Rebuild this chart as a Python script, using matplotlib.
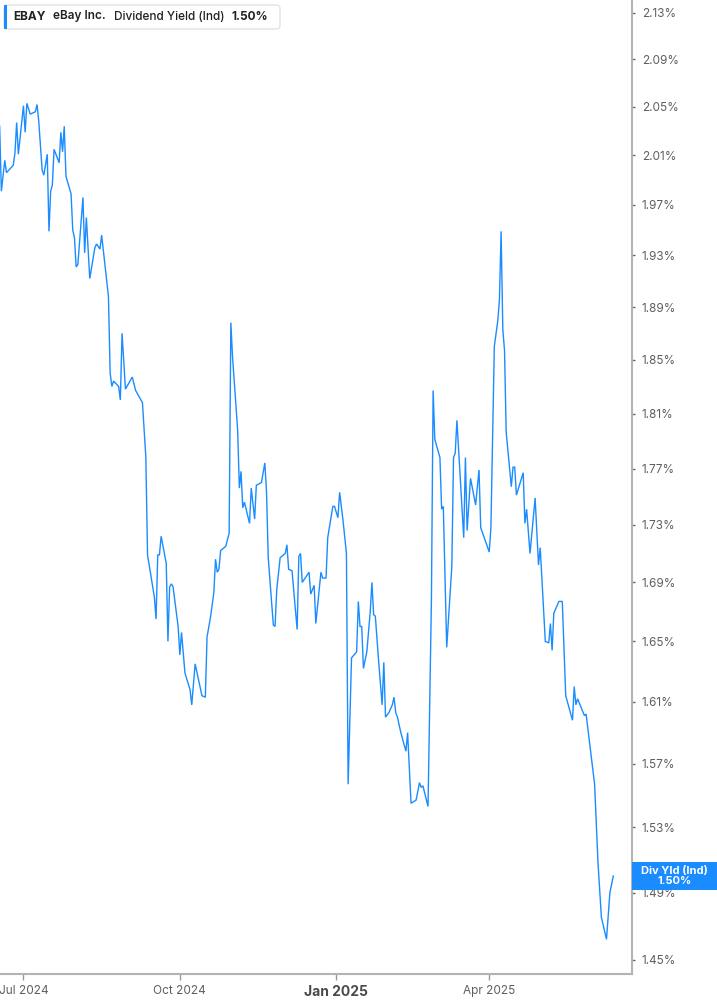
import numpy as np
import pandas as pd
import matplotlib
matplotlib.use("Agg")
import matplotlib.pyplot as plt
import matplotlib.dates as mdates
from matplotlib.patches import FancyBboxPatch, Rectangle
from matplotlib.ticker import FixedLocator, FixedFormatter, NullLocator

plt.rcParams['font.family'] = ['Inter', 'DejaVu Sans']

# EBAY dividend yield (indicated), %
dates = [
    "2024-06-17", "2024-06-18", "2024-06-20", "2024-06-21", "2024-06-25", "2024-06-26", "2024-06-27", "2024-06-28",
    "2024-07-01", "2024-07-02", "2024-07-03", "2024-07-05", "2024-07-08", "2024-07-09", "2024-07-10", "2024-07-12",
    "2024-07-13", "2024-07-15", "2024-07-16", "2024-07-17", "2024-07-18", "2024-07-19", "2024-07-22", "2024-07-23",
    "2024-07-24", "2024-07-25", "2024-07-26", "2024-07-29", "2024-07-30", "2024-07-31",
    "2024-08-01", "2024-08-02", "2024-08-05", "2024-08-06", "2024-08-07", "2024-08-09", "2024-08-12", "2024-08-13",
    "2024-08-15", "2024-08-16", "2024-08-20", "2024-08-21", "2024-08-22", "2024-08-23", "2024-08-26", "2024-08-27",
    "2024-08-28", "2024-08-30",
    "2024-09-03", "2024-09-05", "2024-09-09", "2024-09-11", "2024-09-12", "2024-09-16", "2024-09-17", "2024-09-18",
    "2024-09-19", "2024-09-20", "2024-09-23", "2024-09-24", "2024-09-25", "2024-09-26", "2024-09-27", "2024-09-30",
    "2024-10-01", "2024-10-02", "2024-10-04", "2024-10-07", "2024-10-08", "2024-10-10", "2024-10-14", "2024-10-16",
    "2024-10-17", "2024-10-19", "2024-10-21", "2024-10-22", "2024-10-23", "2024-10-24", "2024-10-25", "2024-10-28",
    "2024-10-30", "2024-10-31",
    "2024-11-01", "2024-11-04", "2024-11-05", "2024-11-06", "2024-11-07", "2024-11-08", "2024-11-11", "2024-11-12",
    "2024-11-14", "2024-11-15", "2024-11-18", "2024-11-20", "2024-11-21", "2024-11-22", "2024-11-25", "2024-11-26",
    "2024-11-27", "2024-11-29",
    "2024-12-02", "2024-12-03", "2024-12-04", "2024-12-06", "2024-12-09", "2024-12-10", "2024-12-11", "2024-12-12",
    "2024-12-16", "2024-12-17", "2024-12-19", "2024-12-20", "2024-12-23", "2024-12-24", "2024-12-26", "2024-12-27",
    "2024-12-30", "2024-12-31",
    "2025-01-02", "2025-01-03", "2025-01-05", "2025-01-07", "2025-01-08", "2025-01-10", "2025-01-13", "2025-01-14",
    "2025-01-15", "2025-01-16", "2025-01-17", "2025-01-19", "2025-01-21", "2025-01-22", "2025-01-23", "2025-01-24",
    "2025-01-26", "2025-01-28", "2025-01-29", "2025-01-30",
    "2025-02-01", "2025-02-03", "2025-02-04", "2025-02-05", "2025-02-06", "2025-02-08", "2025-02-11", "2025-02-12",
    "2025-02-14", "2025-02-17", "2025-02-19", "2025-02-20", "2025-02-21", "2025-02-24", "2025-02-26", "2025-02-27",
    "2025-02-28",
    "2025-03-03", "2025-03-04", "2025-03-05", "2025-03-07", "2025-03-10", "2025-03-11", "2025-03-12", "2025-03-13",
    "2025-03-17", "2025-03-18", "2025-03-19", "2025-03-21", "2025-03-24", "2025-03-26", "2025-03-27",
    "2025-04-01", "2025-04-02", "2025-04-04", "2025-04-06", "2025-04-07", "2025-04-08", "2025-04-09", "2025-04-10",
    "2025-04-11", "2025-04-14", "2025-04-15", "2025-04-16", "2025-04-17", "2025-04-21", "2025-04-22", "2025-04-23",
    "2025-04-25", "2025-04-28", "2025-04-30",
    "2025-05-01", "2025-05-04", "2025-05-06", "2025-05-07", "2025-05-08", "2025-05-09", "2025-05-12", "2025-05-14",
    "2025-05-16", "2025-05-20", "2025-05-21", "2025-05-22", "2025-05-23", "2025-05-27", "2025-05-28", "2025-05-29",
    "2025-06-02", "2025-06-04", "2025-06-06", "2025-06-09", "2025-06-11", "2025-06-13",
]
div_yield = [
    2.034, 1.981, 2.006, 1.996, 2.002, 2.012, 2.037, 2.011,
    2.051, 2.029, 2.053, 2.044, 2.046, 2.052, 2.038, 1.998, 1.994, 2.011, 1.949, 1.981, 1.986, 2.015,
    2.004, 2.029, 2.013, 2.034, 1.993, 1.979, 1.950, 1.944,
    1.921, 1.923, 1.976, 1.932, 1.960, 1.912, 1.936, 1.939, 1.935, 1.946, 1.898, 1.840, 1.830, 1.834,
    1.830, 1.820, 1.870, 1.828,
    1.837, 1.827, 1.818, 1.778, 1.709, 1.680, 1.665, 1.709, 1.709, 1.722, 1.703, 1.650, 1.687, 1.689,
    1.687, 1.660,
    1.641, 1.656, 1.629, 1.618, 1.608, 1.635, 1.614, 1.613, 1.653, 1.666, 1.683, 1.706, 1.697, 1.699,
    1.712, 1.715, 1.724, 1.878,
    1.852, 1.798, 1.756, 1.768, 1.742, 1.746, 1.731, 1.756, 1.734, 1.758, 1.760, 1.774, 1.753, 1.707,
    1.661, 1.660, 1.685, 1.707,
    1.710, 1.716, 1.699, 1.698, 1.658, 1.708, 1.710, 1.690, 1.697, 1.682, 1.688, 1.662, 1.697, 1.693,
    1.693, 1.721, 1.743, 1.743,
    1.735, 1.753, 1.733, 1.710, 1.557, 1.639, 1.643, 1.677, 1.660, 1.660, 1.632, 1.643, 1.670, 1.690,
    1.668, 1.667, 1.636, 1.608, 1.636, 1.600,
    1.603, 1.608, 1.613, 1.603, 1.600, 1.590, 1.578, 1.590, 1.545, 1.547, 1.558, 1.555, 1.556, 1.543,
    1.678, 1.827, 1.791,
    1.778, 1.741, 1.743, 1.646, 1.701, 1.778, 1.781, 1.805, 1.721, 1.778, 1.726, 1.763, 1.744, 1.769,
    1.728,
    1.711, 1.728, 1.860, 1.879, 1.895, 1.949, 1.873, 1.857, 1.796, 1.757, 1.771, 1.771, 1.751, 1.767,
    1.731, 1.741, 1.710, 1.749, 1.702,
    1.714, 1.650, 1.649, 1.662, 1.644, 1.669, 1.677, 1.677, 1.614, 1.598, 1.620, 1.608, 1.612, 1.601,
    1.602, 1.593,
    1.557, 1.508, 1.475, 1.462, 1.490, 1.500,
]

ytick_vals = [1.45, 1.49, 1.53, 1.57, 1.61, 1.65, 1.69, 1.73, 1.77, 1.81, 1.85, 1.89, 1.93, 1.97,
              2.01, 2.05, 2.09, 2.13]
xtick_dates = ["2024-07-01", "2024-10-01", "2025-01-01", "2025-04-01"]
xtick_labels = ["Jul 2024", "Oct 2024", "Jan 2025", "Apr 2025"]

ticker = "EBAY"
company = "eBay Inc."
metric = "Dividend Yield (Ind)"
last_label = "Div Yld (Ind)"

BLUE = "#1a8cff"
GRID_GRAY = "#b3b3b3"
TEXT_GRAY = "#5f5f5f"

W, H = 717, 1005
fig = plt.figure(figsize=(W / 100, H / 100), dpi=100)
ax = fig.add_axes([0, 31 / H, 632 / W, 974 / H])

x = pd.to_datetime(dates)
ax.plot(x, div_yield, color=BLUE, lw=1.0, solid_joinstyle="miter")

ax.set_yscale("log")
ax.set_ylim(1.4415, 2.141)
ax.set_xlim(pd.Timestamp("2024-06-17 04:48"), pd.Timestamp("2025-06-24"))

ax.yaxis.set_major_locator(FixedLocator(ytick_vals))
ax.yaxis.set_major_formatter(FixedFormatter([f"{v:.2f}%" for v in ytick_vals]))
ax.yaxis.set_minor_locator(NullLocator())
ax.yaxis.tick_right()
ax.tick_params(axis="y", length=2, width=1, color="#666666", pad=5,
               labelsize=8.5, labelcolor=TEXT_GRAY)

xt = mdates.date2num(pd.to_datetime(xtick_dates))
ax.xaxis.set_major_locator(FixedLocator(xt))
ax.xaxis.set_major_formatter(FixedFormatter(xtick_labels))
ax.xaxis.set_minor_locator(NullLocator())
ax.tick_params(axis="x", length=4, width=1, color="#999999", pad=4,
               labelsize=8.5, labelcolor=TEXT_GRAY)
for lab in ax.get_xticklabels():
    if lab.get_text().startswith("Jan"):
        lab.set_fontweight("bold")
        lab.set_fontsize(10)
        lab.set_color("#4a4a4a")

for side in ("left", "top"):
    ax.spines[side].set_visible(False)
for side in ("right", "bottom"):
    ax.spines[side].set_color(GRID_GRAY)
    ax.spines[side].set_linewidth(1.5)

# last value tag on the right axis
fig.canvas.draw()
yfrac = ax.transAxes.inverted().transform(ax.transData.transform((xt[0], div_yield[-1])))[1]
ax_h = 974
tag = Rectangle((1.0, yfrac - 14 / ax_h), (W - 632) / 632, 28 / ax_h, transform=ax.transAxes,
                facecolor=BLUE, edgecolor="none", clip_on=False, zorder=5)
ax.add_patch(tag)
ax.text(1.0 + (W - 632) / 2 / 632, yfrac, f"{last_label}\n{div_yield[-1]:.2f}%",
        transform=ax.transAxes, ha="center", va="center", color="white",
        fontsize=8, fontweight="bold", linespacing=1.05, zorder=6, clip_on=False)

# header legend box
box = FancyBboxPatch((4 / W, 1 - 29 / H), 276 / W, 24 / H, boxstyle="round,pad=0,rounding_size=0.004",
                     transform=fig.transFigure, facecolor="white", edgecolor="#e3e3e3", lw=1.0, zorder=3)
fig.patches.append(box)
bar = Rectangle((4 / W, 1 - 29 / H), 3 / W, 24 / H, transform=fig.transFigure,
                facecolor=BLUE, edgecolor="none", zorder=4)
fig.patches.append(bar)
ty = 1 - 16.5 / H
fig.text(13 / W, ty, ticker, fontsize=8.5, fontweight="bold", color="#222222", va="center")
fig.text(53 / W, ty, company, fontsize=8.5, fontweight="semibold", color="#222222", va="center")
fig.text(114 / W, ty, metric, fontsize=8.5, fontweight="medium", color="#222222", va="center")
fig.text(232 / W, ty, f"{div_yield[-1]:.2f}%", fontsize=8.5, fontweight="bold", color="#222222", va="center")

fig.savefig("out.png", dpi=100, facecolor="white")
